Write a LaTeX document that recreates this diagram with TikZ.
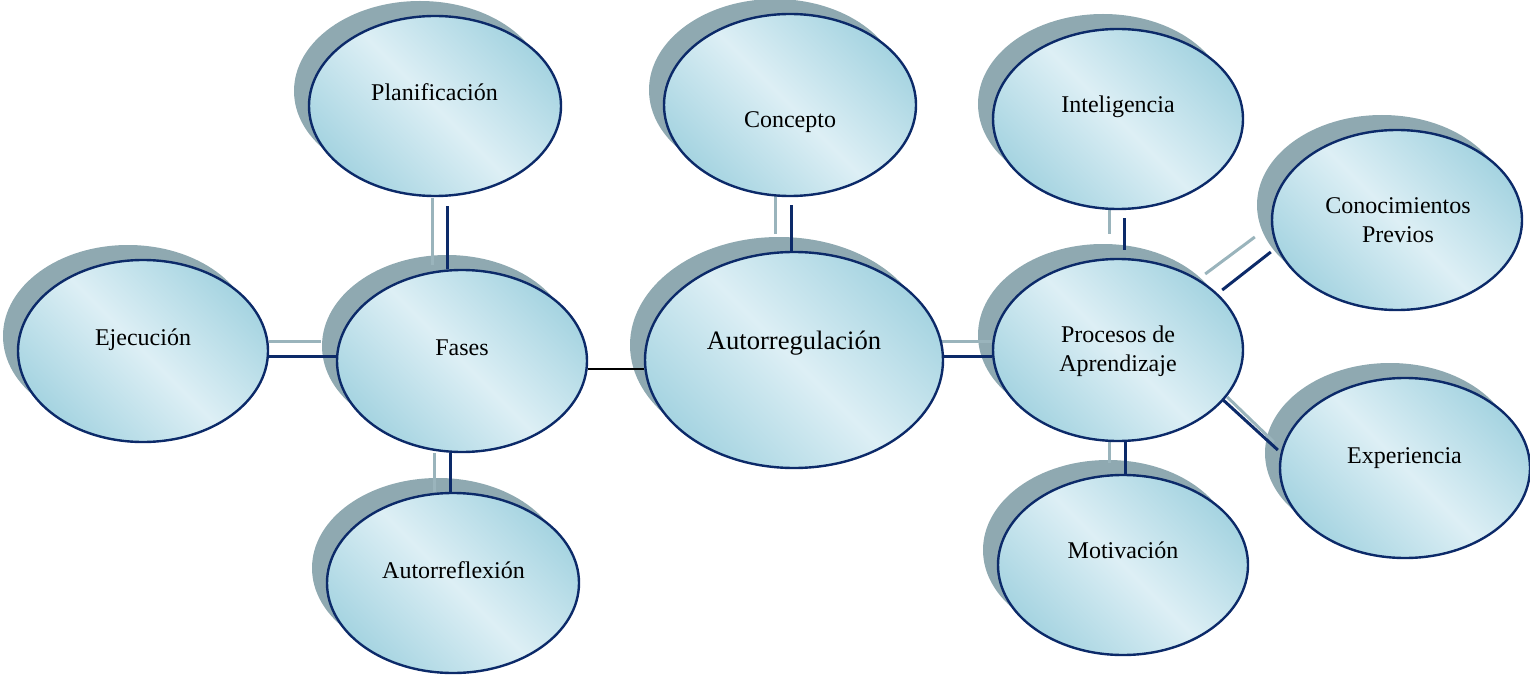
\documentclass[tikz,border=0pt]{standalone}
\usepackage{fontspec}
\setmainfont{Liberation Serif}
\usetikzlibrary{shapes.geometric,backgrounds}
\definecolor{shc}{HTML}{8FA9B1}
\definecolor{navy}{HTML}{0C2A69}
\definecolor{lightln}{HTML}{9AB4BC}
\definecolor{fillA}{HTML}{A6D4E1}
\definecolor{fillB}{HTML}{DDEFF5}
\tikzset{
  bub/.style={ellipse, draw=navy, line width=1.2pt, inner sep=0pt,
    top color=fillA, bottom color=fillA, middle color=fillB, shading angle=-45},
  dk/.style={draw=navy, line width=1.5pt},
  lt/.style={draw=lightln, line width=1.5pt},
  blk/.style={draw=black, line width=0.7pt},
  txt/.style={inner sep=0pt, anchor=base, font=\fontsize{12}{14}\selectfont},
  bigtxt/.style={inner sep=0pt, anchor=base, font=\fontsize{13.3}{16}\selectfont}
}
\begin{document}
\begin{tikzpicture}[x=0.5pt,y=0.5pt]
\useasboundingbox (0,0) rectangle (1530,676);
% main ellipses
\node[bub, minimum width=126pt, minimum height=90pt] (plan)  at (435,570) {};
\node[bub, minimum width=126pt, minimum height=91pt] (conc)  at (790,571) {};
\node[bub, minimum width=125pt, minimum height=90pt] (intel) at (1118,557) {};
\node[bub, minimum width=125pt, minimum height=90pt] (cono)  at (1397,456) {};
\node[bub, minimum width=125pt, minimum height=91pt] (ejec)  at (143,325) {};
\node[bub, minimum width=125pt, minimum height=91pt] (fases) at (462,315) {};
\node[bub, minimum width=149pt, minimum height=108pt] (auto) at (794,316) {};
\node[bub, minimum width=125pt, minimum height=91pt] (proc)  at (1118,326) {};
\node[bub, minimum width=125pt, minimum height=90pt] (expe)  at (1405,208) {};
\node[bub, minimum width=125pt, minimum height=90pt] (moti)  at (1123,111) {};
\node[bub, minimum width=126pt, minimum height=90pt] (refl)  at (453,93) {};
% shadows and light connector lines
\begin{scope}[on background layer]
  \foreach \n/\rx/\ry in {plan/126/90, conc/126/91, intel/125/90, cono/125/90,
      ejec/125/91, fases/125/91, auto/149/108, proc/125/91, expe/125/90,
      moti/125/90, refl/126/90}{
    \fill[shc] ([shift={(-15,15)}]\n.center) ellipse [x radius=\rx, y radius=\ry];
  }
  \draw[lt] ([shift={(-3,-1)}]plan.south) -- ([shift={(-30,4)}]fases.north);
  \draw[lt] ([shift={(-15,8)}]conc.south) -- ([shift={(-19,17)}]auto.north);
  \draw[lt] ([shift={(-9,0)}]intel.south) -- ([shift={(-9,24)}]proc.north);
  \draw[lt] ([shift={(-39,76)}]proc.east) -- ([shift={(-16,-17)}]cono.west);
  \draw[lt] ([shift={(0,10)}]ejec.east) -- ([shift={(-15,20)}]fases.west);
  \draw[lt] ([shift={(-3,19)}]auto.east) -- ([shift={(0,9)}]proc.west);
  \draw[lt] ([shift={(-17,-47)}]proc.east) -- ([shift={(-5,26)}]expe.west);
  \draw[lt] ([shift={(-9,0)}]proc.south) -- ([shift={(-14,11)}]moti.north);
  \draw[lt] ([shift={(-28,0)}]fases.south) -- ([shift={(-19,0)}]refl.north);
\end{scope}
% dark connectors
\draw[dk] ([shift={(12,-9)}]plan.south) -- ([shift={(-15,0)}]fases.north);
\draw[dk] ([shift={(1,-8)}]conc.south) -- ([shift={(-3,0)}]auto.north);
\draw[dk] ([shift={(6,-8)}]intel.south) -- ([shift={(6,8)}]proc.north);
\draw[dk] ([shift={(-22,60)}]proc.east) -- ([shift={(0,-32)}]cono.west);
\draw[dk] ([shift={(0,-5)}]ejec.east) -- ([shift={(0,5)}]fases.west);
\draw[blk] ([shift={(0,-8)}]fases.east) -- ([shift={(0,-9)}]auto.west);
\draw[dk] ([shift={(0,4)}]auto.east) -- ([shift={(0,-6)}]proc.west);
\draw[dk] ([shift={(-21,-50)}]proc.east) -- ([shift={(-1,18)}]expe.west);
\draw[dk] ([shift={(7,0)}]proc.south) -- ([shift={(2,0)}]moti.north);
\draw[dk] ([shift={(-12,0)}]fases.south) -- ([shift={(-3,0)}]refl.north);
% texts
\node[txt] (tplan) at (434.5,575) {Planificación};
\node[txt] (tconc) at (790,548) {Concepto};
\node[txt] (tintel) at (1118,563) {Inteligencia};
\node[txt] (tcono1) at (1398,463) {Conocimientos};
\node[txt] (tcono2) at (1398,434) {Previos};
\node[txt] (tejec) at (143,331) {Ejecución};
\node[txt] (tfases) at (462,321) {Fases};
\node[bigtxt] (tauto) at (794,327) {Autorregulación};
\node[txt] (tproc1) at (1118,334) {Procesos de};
\node[txt] (tproc2) at (1118,305) {Aprendizaje};
\node[txt] (texpe) at (1404.5,213) {Experiencia};
\node[txt] (tmoti) at (1123,118) {Motivación};
\node[txt] (trefl) at (453.5,98) {Autorreflexión};
\end{tikzpicture}
\end{document}
